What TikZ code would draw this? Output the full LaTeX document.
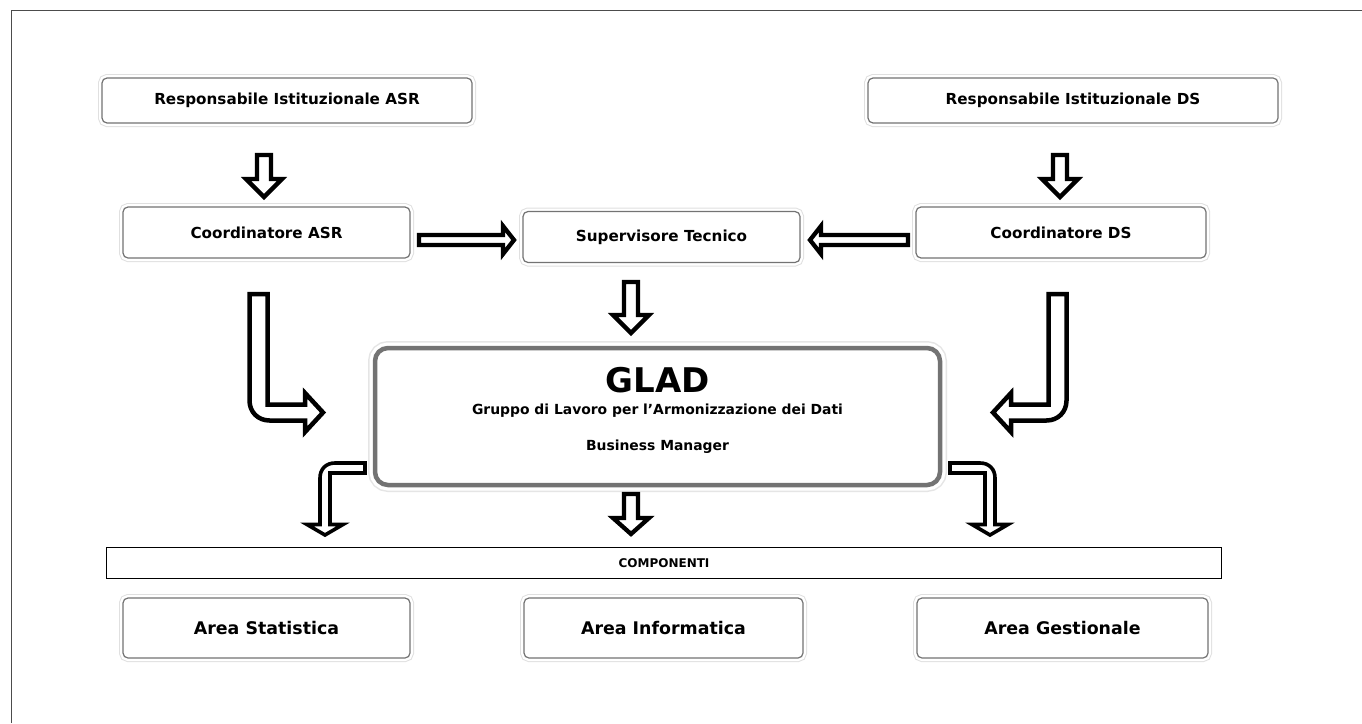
\documentclass[tikz,border=0pt]{standalone}
\usepackage{fontspec}
\setmainfont{DejaVu Sans}
\newcommand\blkdown[6]{% centre x, top, head base, tip, shaft half-width, head half-width
  \draw[barrow] (#1-#5,#2) -- (#1+#5,#2) -- (#1+#5,#3) -- (#1+#6,#3) -- (#1,#4)
    -- (#1-#6,#3) -- (#1-#5,#3) -- cycle;}
\newcommand\blkhoriz[6]{% start x, head base x, tip x, centre y, shaft half-width, head half-width
  \draw[barrow] (#1,#4-#5) -- (#2,#4-#5) -- (#2,#4-#6) -- (#3,#4) -- (#2,#4+#6)
    -- (#2,#4+#5) -- (#1,#4+#5) -- cycle;}
\tikzset{
  box/.style={draw=black!55, line width=1.2pt, rounded corners=5pt, fill=white,
    inner sep=0pt, outer sep=0pt,
    font=\bfseries\fontsize{15.2}{18}\selectfont,
    preaction={draw=black!12, line width=8pt},
    preaction={draw=white, line width=6pt},
    append after command={
      \pgfextra{\draw[black!62, line width=2.6pt]
        ([yshift=-5pt]\tikzlastnode.north west) -- ([yshift=5pt]\tikzlastnode.south west)
        ([yshift=-5pt]\tikzlastnode.north east) -- ([yshift=5pt]\tikzlastnode.south east);}}},
  areabox/.style={box, font=\bfseries\fontsize{17.4}{20}\selectfont},
  gladbox/.style={draw=black!55, line width=4.5pt, rounded corners=13pt, fill=white,
    inner sep=0pt, outer sep=0pt,
    preaction={draw=black!10, line width=14pt},
    preaction={draw=white, line width=11pt}},
  bar/.style={draw=black, line width=1.2pt, fill=white, inner sep=0pt,
    font=\bfseries\fontsize{12}{14}\selectfont},
  barrow/.style={draw=black, line width=4.3pt, fill=white, line join=miter},
  frame/.style={draw=black!70, line width=1.5pt}
}
\begin{document}
\begin{tikzpicture}[x=1pt, y=-1pt]
\useasboundingbox (0,0) rectangle (1362,723);
\fill[white] (0,0) rectangle (1362,723);
\draw[frame] (11.5,723) -- (11.5,10.5) -- (1362,10.5);

% top row
\node[box, minimum width=370pt, minimum height=45pt] (resasr) at (287,100.5) {Responsabile Istituzionale ASR};
\node[box, minimum width=410pt, minimum height=45pt] (resds) at (1073,100.5) {Responsabile Istituzionale DS};

% coordination row
\node[box, minimum width=287pt, minimum height=51pt] (coasr) at (266.5,232.5) {Coordinatore ASR};
\node[box, minimum width=277pt, minimum height=51pt] (sup) at (661.5,237) {Supervisore Tecnico};
\node[box, minimum width=290pt, minimum height=51pt] (cods) at (1061,232.5) {Coordinatore DS};

% working group
\node[gladbox, minimum width=565pt, minimum height=137pt] (glad) at (657.5,416.5) {};
\node[font=\bfseries\fontsize{34}{38}\selectfont] (gladtitle) at (657.5,380) {GLAD};
\node[font=\bfseries\fontsize{13.9}{16}\selectfont] (gladsub) at (657.5,411) {Gruppo di Lavoro per l’Armonizzazione dei Dati};
\node[font=\bfseries\fontsize{13.9}{16}\selectfont] (gladbm) at (657.5,447) {Business Manager};

% components
\node[bar, minimum width=1115pt, minimum height=31pt] (comp) at (664,563) {COMPONENTI};
\node[areabox, minimum width=287pt, minimum height=60pt] (astat) at (266.5,628) {Area Statistica};
\node[areabox, minimum width=279pt, minimum height=60pt] (ainf) at (663.5,628) {Area Informatica};
\node[areabox, minimum width=291pt, minimum height=60pt] (agest) at (1062.5,628) {Area Gestionale};

% straight block arrows
\blkdown{264}{155}{179}{197}{7}{18}
\blkdown{1060}{155}{179}{197}{7}{18}
\blkhoriz{419}{503}{514}{240}{5}{14}
\blkhoriz{908}{821}{810}{240}{5}{14}
\blkdown{631}{282}{315}{333}{7}{18}
\blkdown{631}{494}{518}{534}{7}{18}

% bent block arrows towards the working group
\draw[barrow, line width=4.5pt] (249.5,294) -- (267.5,294) -- (267.5,404.5) -- (305,404.5)
  -- (305,393) -- (323,412.5) -- (305,432) -- (305,420.5) -- (269.5,420.5)
  .. controls (258,420.5) and (249.5,412) .. (249.5,400.5) -- cycle;
\draw[barrow, line width=4.5pt] (1066.5,294) -- (1048.5,294) -- (1048.5,404.5) -- (1011,404.5)
  -- (1011,393) -- (993,412.5) -- (1011,432) -- (1011,420.5) -- (1046.5,420.5)
  .. controls (1058,420.5) and (1066.5,412) .. (1066.5,400.5) -- cycle;

% bent block arrows towards the components
\draw[barrow, line width=3.6pt] (950,463) -- (980,463) .. controls (989,463) and (995,469) .. (995,478)
  -- (995,524.5) -- (1008,524.5) -- (990,535) -- (972,524.5) -- (985,524.5) -- (985,473)
  -- (950,473) -- cycle;
\draw[barrow, line width=3.6pt] (365,463) -- (335,463) .. controls (326,463) and (320,469) .. (320,478)
  -- (320,524.5) -- (307,524.5) -- (325,535) -- (343,524.5) -- (330,524.5) -- (330,473)
  -- (365,473) -- cycle;
\end{tikzpicture}
\end{document}
